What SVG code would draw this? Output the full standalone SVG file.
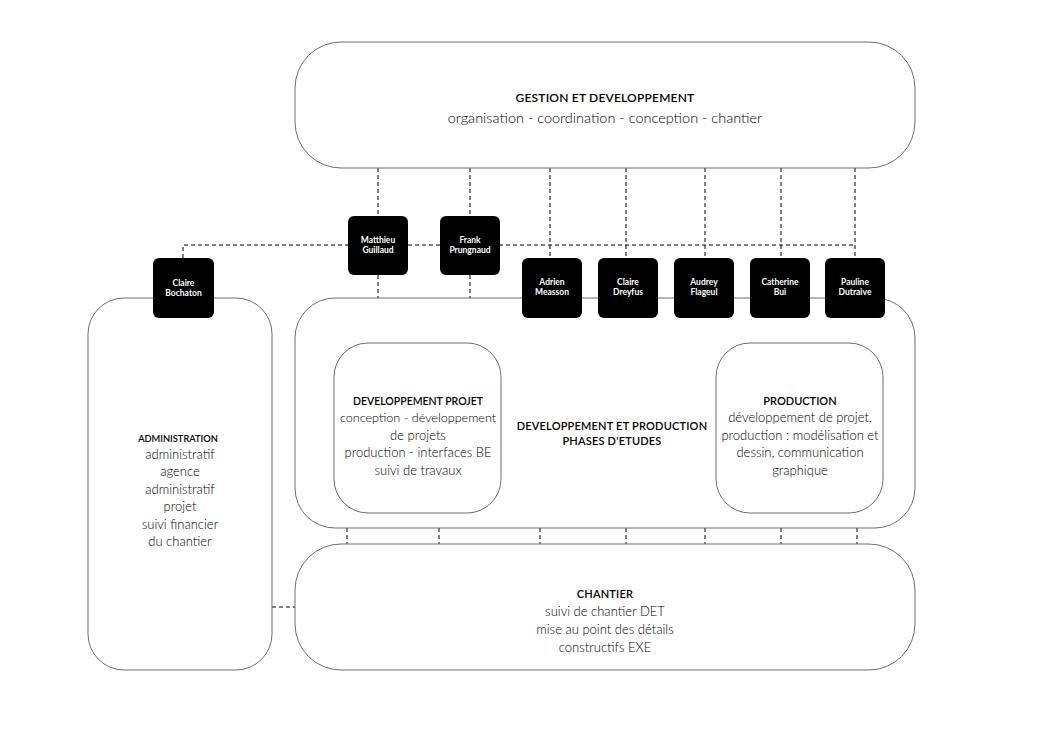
<svg xmlns="http://www.w3.org/2000/svg" width="1060" height="736" viewBox="0 0 1060 736">
<style>
.box{fill:#fff;stroke:#6e6e6e;stroke-width:1}
.person{fill:#000}
.pt{fill:#fff;font-family:Lato,"Liberation Sans",sans-serif;font-weight:700;font-size:8.5px;text-anchor:middle}
.h{fill:#000;font-family:Lato,"Open Sans",sans-serif;font-weight:600;font-size:11px;text-anchor:middle;letter-spacing:0.2px}
.t{fill:#000;font-family:Lato,"Open Sans",sans-serif;font-weight:300;font-size:13px;text-anchor:middle}
.dash{fill:none;stroke:#000;stroke-width:1;stroke-dasharray:4 3}
</style>
<rect width="1060" height="736" fill="#fff"/>
<g id="connectors">
<path class="dash" d="M183 258V245H855"/>
<path class="dash" d="M378 168V216M378 275V298"/>
<path class="dash" d="M470 168V216M470 275V298"/>
<path class="dash" d="M550 168V258"/>
<path class="dash" d="M626 168V258"/>
<path class="dash" d="M705 168V258"/>
<path class="dash" d="M781 168V258"/>
<path class="dash" d="M855 168V258"/>
<path class="dash" d="M347 528V544M439 528V544M540 528V544M626 528V544M705 528V544M781 528V544M857 528V544"/>
<path class="dash" d="M272 607H295"/>
</g>
<g id="gestion">
<rect class="box" x="295" y="42" width="620" height="126" rx="46"/>
<text class="h" x="605" y="102" style="font-size:12px">GESTION ET DEVELOPPEMENT</text>
<text class="t" x="605" y="123" style="font-size:14.5px">organisation - coordination - conception - chantier</text>
</g>
<g id="administration">
<rect class="box" x="88" y="298" width="184" height="372" rx="36"/>
<text class="h" x="178" y="442" style="font-size:9.3px;letter-spacing:0">ADMINISTRATION</text>
<text class="t" x="180" y="459">administratif</text>
<text class="t" x="180" y="476">agence</text>
<text class="t" x="180" y="494">administratif</text>
<text class="t" x="180" y="511">projet</text>
<text class="t" x="180" y="529">suivi financier</text>
<text class="t" x="180" y="546">du chantier</text>
</g>
<g id="dev-production">
<rect class="box" x="295" y="298" width="620" height="230" rx="40"/>
<text class="h" x="612" y="430">DEVELOPPEMENT ET PRODUCTION</text>
<text class="h" x="612" y="445">PHASES D'ETUDES</text>
</g>
<g id="dev-projet">
<rect class="box" x="334" y="343" width="167" height="170" rx="34"/>
<text class="h" x="418" y="405" style="font-size:10.5px;letter-spacing:0">DEVELOPPEMENT PROJET</text>
<text class="t" x="418" y="422" style="font-size:12.6px">conception - développement</text>
<text class="t" x="418" y="440">de projets</text>
<text class="t" x="418" y="457">production - interfaces BE</text>
<text class="t" x="418" y="475">suivi de travaux</text>
</g>
<g id="production">
<rect class="box" x="716" y="343" width="167" height="170" rx="34"/>
<text class="h" x="800" y="405" style="letter-spacing:0">PRODUCTION</text>
<text class="t" x="800" y="422">développement de projet,</text>
<text class="t" x="800" y="440">production : modélisation et</text>
<text class="t" x="800" y="457">dessin, communication</text>
<text class="t" x="800" y="475">graphique</text>
</g>
<g id="chantier">
<rect class="box" x="295" y="544" width="620" height="126" rx="46"/>
<text class="h" x="605" y="598">CHANTIER</text>
<text class="t" x="605" y="616">suivi de chantier DET</text>
<text class="t" x="605" y="634">mise au point des détails</text>
<text class="t" x="605" y="652">constructifs EXE</text>
</g>
<g id="claire-bochaton"><rect class="person" x="153" y="258" width="61" height="60" rx="6"/><text class="pt" x="183.5" y="286">Claire</text><text class="pt" x="183.5" y="296">Bochaton</text></g>
<g id="matthieu-guillaud"><rect class="person" x="348" y="216" width="60" height="59" rx="6"/><text class="pt" x="378" y="243">Matthieu</text><text class="pt" x="378" y="253">Guillaud</text></g>
<g id="frank-prungnaud"><rect class="person" x="440" y="216" width="60" height="59" rx="6"/><text class="pt" x="470" y="243">Frank</text><text class="pt" x="470" y="253">Prungnaud</text></g>
<g id="adrien-measson"><rect class="person" x="522" y="258" width="60" height="60" rx="6"/><text class="pt" x="552" y="285">Adrien</text><text class="pt" x="552" y="295">Measson</text></g>
<g id="claire-dreyfus"><rect class="person" x="598" y="258" width="60" height="60" rx="6"/><text class="pt" x="628" y="285">Claire</text><text class="pt" x="628" y="295">Dreyfus</text></g>
<g id="audrey-flageul"><rect class="person" x="674" y="258" width="60" height="60" rx="6"/><text class="pt" x="704" y="285">Audrey</text><text class="pt" x="704" y="295">Flageul</text></g>
<g id="catherine-bui"><rect class="person" x="750" y="258" width="60" height="60" rx="6"/><text class="pt" x="780" y="285">Catherine</text><text class="pt" x="780" y="295">Bui</text></g>
<g id="pauline-dutraive"><rect class="person" x="825" y="258" width="60" height="60" rx="6"/><text class="pt" x="855" y="285">Pauline</text><text class="pt" x="855" y="295">Dutraive</text></g>
</svg>
